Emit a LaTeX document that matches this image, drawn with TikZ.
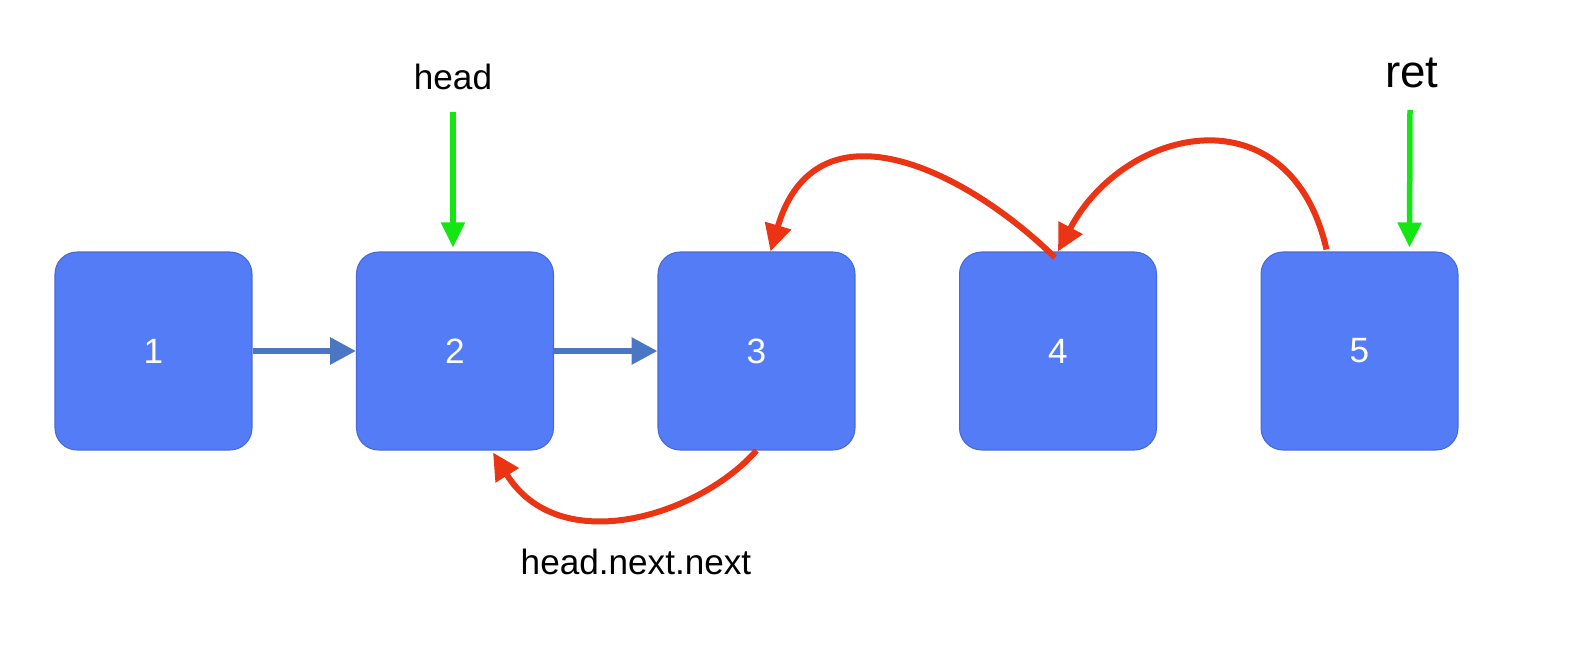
\documentclass[tikz,border=0pt]{standalone}
\usepackage{fontspec}
\setmainfont{Liberation Sans}
\usetikzlibrary{arrows.meta,calc}
\definecolor{boxblue}{RGB}{85,124,247}
\definecolor{boxedge}{RGB}{70,105,215}
\definecolor{linkblue}{RGB}{74,118,196}
\definecolor{redarr}{RGB}{235,52,20}
\definecolor{greenarr}{RGB}{20,230,20}
\begin{document}
\begin{tikzpicture}[x=0.02cm,y=-0.02cm,
 listbox/.style={rectangle,rounded corners=0.44cm,minimum width=3.94cm,minimum height=3.96cm,fill=boxblue,draw=boxedge,line width=0.6pt,text=white,font=\fontsize{20}{20}\selectfont,inner sep=0pt},
 linkarrow/.style={draw=linkblue,line width=0.12cm,-{Triangle[length=0.52cm,width=0.52cm]}},
 ptrarrow/.style={draw=greenarr,line width=0.11cm,-{Triangle[length=0.5cm,width=0.46cm]}},
 backarrow/.style={draw=redarr,line width=0.12cm,-{Triangle[length=0.54cm,width=0.52cm]}},
 lbl/.style={font=\fontsize{20}{20}\selectfont,text=black,inner sep=0pt},
 biglbl/.style={font=\fontsize{26}{26}\selectfont,text=black,inner sep=0pt}]
\useasboundingbox (0,0) rectangle (1590,662);

\node[listbox] (n1) at (153.5,351) {1};
\node[listbox] (n2) at (455,351) {2};
\node[listbox] (n3) at (756.5,351) {3};
\node[listbox] (n4) at (1058,351) {4};
\node[listbox] (n5) at (1359.5,351) {5};

\draw[linkarrow] (n1.east) -- (n2.west);
\draw[linkarrow] (n2.east) -- (n3.west);

\node[lbl] (hd) at (453,77) {head};
\node[biglbl] (rt) at (1412,73) {ret};
\node[lbl] (hnn) at (636,562) {head.next.next};

\coordinate (hs) at (453,112);
\coordinate (rs) at (1410,110);
\draw[ptrarrow] (hs) -- ($(n2.north)+(-2,-4)$);
\draw[ptrarrow] (rs) -- ($(n5.north)+(50,-4)$);

\draw[backarrow] (n3.south) .. controls (700,515) and (560,560) .. ($(n2.south)+(38,2)$);
\draw[backarrow] ($(n4.north)+(-3,6)$) .. controls (960,165) and (815,100) .. ($(n3.north)+(14,0)$);
\draw[backarrow] ($(n5.north)+(-33,-2)$) .. controls (1290,90) and (1125,125) .. ($(n4.north)+(0,0)$);
\end{tikzpicture}
\end{document}
